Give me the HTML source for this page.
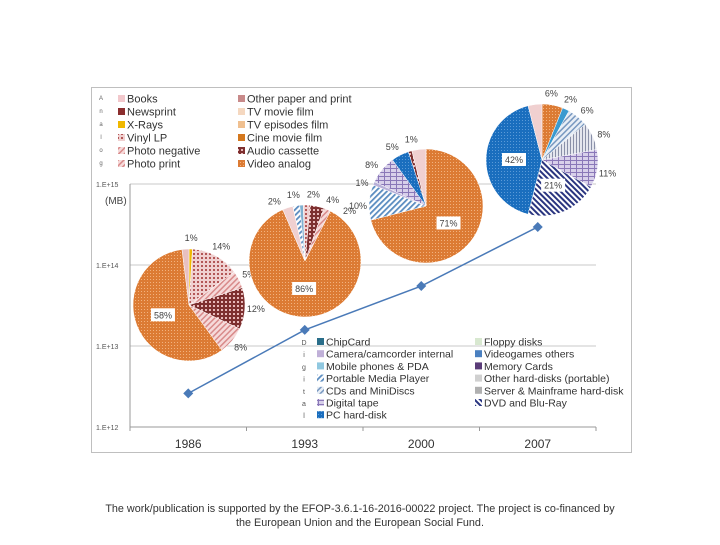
<!DOCTYPE html>
<html><head><meta charset="utf-8"><style>
body{margin:0;background:#fff;width:720px;height:540px;overflow:hidden;font-family:"Liberation Sans",sans-serif}
svg text{font-family:"Liberation Sans",sans-serif}
</style></head><body>
<svg id="chart" width="720" height="540" xmlns="http://www.w3.org/2000/svg">
<defs>
<pattern id="pOr" width="3" height="3" patternUnits="userSpaceOnUse"><rect width="3" height="3" fill="#dc7b34"/><rect width="1" height="1" fill="#f2b27e"/></pattern>
<pattern id="pCas" width="4" height="4" patternUnits="userSpaceOnUse"><rect width="4" height="4" fill="#7d2f2f"/><rect x="1" y="1" width="2" height="2" fill="#e6b8b8"/></pattern>
<pattern id="pVin" width="4" height="4" patternUnits="userSpaceOnUse"><rect width="4" height="4" fill="#f0d0d0"/><circle cx="2" cy="2" r="1" fill="#a03030"/></pattern>
<pattern id="pPh" width="4" height="4" patternUnits="userSpaceOnUse" patternTransform="rotate(45)"><rect width="4" height="4" fill="#f6dada"/><rect width="1.5" height="4" fill="#d88a8a"/></pattern>
<pattern id="pCD" width="4" height="4" patternUnits="userSpaceOnUse" patternTransform="rotate(45)"><rect width="4" height="4" fill="#fff"/><rect width="1.8" height="4" fill="#5a8cc0"/></pattern>
<pattern id="pTape" width="6" height="4" patternUnits="userSpaceOnUse"><rect width="6" height="4" fill="#d8d0ea"/><rect width="6" height="1" fill="#8a78b8"/><rect width="1" height="4" fill="#8a78b8"/></pattern>
<pattern id="pDVD" width="4" height="4" patternUnits="userSpaceOnUse" patternTransform="rotate(-45)"><rect width="4" height="4" fill="#fff"/><rect width="2" height="4" fill="#2a3580"/></pattern>
<pattern id="pSrv" width="3" height="3" patternUnits="userSpaceOnUse"><rect width="3" height="3" fill="#e4e6ee"/><rect width="1" height="3" fill="#8a90a8"/></pattern>
<pattern id="pHD" width="4" height="4" patternUnits="userSpaceOnUse" patternTransform="rotate(45)"><rect width="4" height="4" fill="#e8eef6"/><rect width="1.5" height="4" fill="#7898c0"/></pattern>
<pattern id="pPC" width="3" height="3" patternUnits="userSpaceOnUse"><rect width="3" height="3" fill="#1a6ebe"/><rect width="1" height="1" fill="#5a9ad8"/></pattern>
</defs>
<rect x="91.5" y="87.5" width="540" height="365" fill="#fff" stroke="#bfbfbf"/>
<g id="grid"></g><g id="pies"></g><g id="line"></g><g id="legends"></g>
<text x="360" y="512" font-size="10.8" text-anchor="middle" fill="#333">The work/publication is supported by the EFOP-3.6.1-16-2016-00022 project. The project is co-financed by</text>
<text x="360" y="526" font-size="10.8" text-anchor="middle" fill="#333">the European Union and the European Social Fund.</text>
</svg>
<script>
const years=["1986","1993","2000","2007"];
const totals=[2.6e12,1.58e13,5.5e13,2.95e14];
const yTicks=[1e12,1e13,1e14,1e15];
const yTickLabels=["1.E+12","1.E+13","1.E+14","1.E+15"];
const pie1986=[1,14,5,12,8,58,2];
const pie1993=[2,1,2,4,2,86,3];
const pie2000=[71,10,1,8,5,1,4];
const pie2007=[6,2,6,8,11,21,42,4];
const lab1986=["1%","14%","5%","12%","8%","58%",""];
const lab1993=["2%","1%","2%","4%","2%","86%",""];
const lab2000=["71%","10%","1%","8%","5%","1%",""];
const lab2007=["6%","2%","6%","8%","11%","21%","42%",""];
const col1986=["#f0b800","url(#pVin)","url(#pPh)","url(#pCas)","url(#pPh)","url(#pOr)","#e8c0c0"];
const col1993=["url(#pCD)","#7fb0d0","url(#pVin)","url(#pCas)","url(#pPh)","url(#pOr)","#f0d0d0"];
const col2000=["url(#pOr)","url(#pCD)","#b8b0d8","url(#pTape)","url(#pPC)","url(#pCas)","#f0d0d0"];
const col2007=["url(#pOr)","#3a9ad0","url(#pHD)","url(#pSrv)","url(#pTape)","url(#pDVD)","url(#pPC)","#f0d0d0"];
const NS="http://www.w3.org/2000/svg";
const X0=130,X1=596,Y0=427,DEC=81;
const xc=i=>X0+(X1-X0)/4*(i+0.5);
const ys=v=>Y0-Math.log10(v/1e12)*DEC;
function mk(t,a,p){const e=document.createElementNS(NS,t);for(const k in a)e.setAttribute(k,a[k]);(p||document.getElementById('chart')).appendChild(e);return e;}
const grid=document.getElementById('grid');
yTicks.forEach((v,i)=>{
 const y=ys(v);
 if(i>0){const g=mk('line',{x1:X0,x2:X1,y1:y,y2:y,stroke:'#c8c8c8'},grid);
 
 }
 const t=mk('text',{x:96,y:y+3,'font-size':7,fill:'#555'},grid);t.textContent=yTickLabels[i];
 
 
});
mk('line',{x1:X0,x2:X0,y1:ys(1e15),y2:Y0,stroke:'#999'},grid);
mk('line',{x1:X0,x2:X1,y1:Y0,y2:Y0,stroke:'#999'},grid);
for(let i=0;i<=4;i++)mk('line',{x1:X0+(X1-X0)/4*i,x2:X0+(X1-X0)/4*i,y1:Y0,y2:Y0+4,stroke:'#999'},grid);
years.forEach((yr,i)=>{const t=mk('text',{x:xc(i),y:448,'font-size':12,'text-anchor':'middle',fill:'#333'},grid);t.textContent=yr;
 
 });
const mb=mk('text',{x:105,y:204,'font-size':10,fill:'#444'},grid);mb.textContent='(MB)';


const pieCfg=[[pie1986,lab1986,col1986,189,305,56,0],[pie1993,lab1993,col1993,305,261,56,-0.035],[pie2000,lab2000,col2000,426,206,57,0],[pie2007,lab2007,col2007,542,160,56,0]];
const pg=document.getElementById('pies');
pieCfg.forEach((c,pi)=>{
 const [vals,labs,cols,cx,cy,r,start]=c;const tot=vals.reduce((a,b)=>a+b,0);
 let a=start*2*Math.PI;
 const p=(ang,rr)=>[cx+rr*Math.sin(ang),cy-rr*Math.cos(ang)];
 const smallLabs=[];
 vals.forEach((v,j)=>{
  const a2=a+v/tot*2*Math.PI;
  const [x1,y1]=p(a,r),[x2,y2]=p(a2,r);
  const s=mk('path',{d:`M${cx},${cy}L${x1},${y1}A${r},${r} 0 ${a2-a>Math.PI?1:0} 1 ${x2},${y2}Z`,fill:cols[j],stroke:'#fff','stroke-width':0.5},pg);
  
  
  if(labs[j]){const m=(a+a2)/2;
   if(v>15){const [lx,ly]=p(m,r*0.5);
    mk('rect',{x:lx-12,y:ly-7,width:24,height:13,fill:'#fff'},pg);
    const t=mk('text',{x:lx,y:ly+3,'font-size':9,'text-anchor':'middle',fill:'#444'},pg);t.textContent=labs[j];
    
    }
   else smallLabs.push([m,labs[j]]);}
  a=a2;});
 // spread small labels to avoid overlap (layout only)
 const minGap=0.3;
 for(let k=1;k<smallLabs.length;k++){if(smallLabs[k][0]-smallLabs[k-1][0]<minGap){
   const shift=(minGap-(smallLabs[k][0]-smallLabs[k-1][0]))/2;
   for(let q=0;q<k;q++)smallLabs[q][0]-=shift;
   for(let q=k;q<smallLabs.length;q++)smallLabs[q][0]+=shift;}}
 smallLabs.forEach(([m,l])=>{const [lx,ly]=p(m,r+11);
  const t=mk('text',{x:lx,y:ly+3,'font-size':9,'text-anchor':'middle',fill:'#444'},pg);t.textContent=l;
  
  });
});
const lg=document.getElementById('line');
const pts=totals.map((v,i)=>[xc(i),ys(v)]);
const pl=mk('polyline',{points:pts.map(p=>p.join(',')).join(' '),fill:'none',stroke:'#4a7ab8','stroke-width':1.5},lg);


pts.forEach(p=>{const d=mk('path',{d:`M${p[0]},${p[1]-5}L${p[0]+5},${p[1]}L${p[0]},${p[1]+5}L${p[0]-5},${p[1]}Z`,fill:'#4a7ab8'},lg);
 
 });
const L=document.getElementById('legends');
const leg1a=["Books","Newsprint","X-Rays","Vinyl LP","Photo negative","Photo print"];
const leg1aC=["#f2c8cc","#8b2e2e","#f0b800","url(#pVin)","url(#pPh)","url(#pPh)"];
const leg1b=["Other paper and print","TV movie film","TV episodes film","Cine movie film","Audio cassette","Video analog"];
const leg1bC=["#c88a8a","#f5d8c0","#f0c090","#d4781e","url(#pCas)","url(#pOr)"];
const leg2a=["ChipCard","Camera/camcorder internal","Mobile phones & PDA","Portable Media Player","CDs and MiniDiscs","Digital tape","PC hard-disk"];
const leg2aC=["#2a6e8a","#c0b0d8","#90c8e0","url(#pCD)","url(#pHD)","url(#pTape)","url(#pPC)"];
const leg2b=["Floppy disks","Videogames others","Memory Cards","Other hard-disks (portable)","Server & Mainframe hard-disk","DVD and Blu-Ray"];
const leg2bC=["#d8e8d0","#4a80c0","#5a3c78","#d0d0d0","#b0b0b0","url(#pDVD)"];
function legend(names,cols,x,y0,dy,fs){names.forEach((n,i)=>{const y=y0+i*dy;
 const r=mk('rect',{x:x,y:y-4,width:7,height:7,fill:cols[i]},L);
 
 
 const t=mk('text',{x:x+9,y:y+3.5,'font-size':fs,fill:'#333'},L);t.textContent=n;
 
 });}
legend(leg1a,leg1aC,118,99,13,11);legend(leg1b,leg1bC,238,99,13,11);
legend(leg2a,leg2aC,317,342,12.2,10.5);legend(leg2b,leg2bC,475,342,12.2,10.5);
"Analog".split('').forEach((ch,i)=>{const t=mk('text',{x:101,y:100+i*13,'font-size':6,'text-anchor':'middle',fill:'#666'},L);t.textContent=ch;
 
 });
"Digital".split('').forEach((ch,i)=>{const t=mk('text',{x:304,y:345+i*12.2,'font-size':7,'text-anchor':'middle',fill:'#555'},L);t.textContent=ch;
 
 });
</script>
</body></html>
